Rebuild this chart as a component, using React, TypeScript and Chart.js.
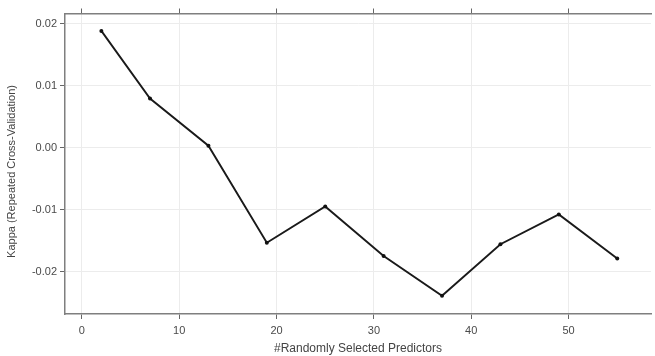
import React, { useEffect, useRef } from "react";
import { Chart, registerables } from "chart.js";

Chart.register(...registerables);

const PREDICTORS = [2, 7, 13, 19, 25, 31, 37, 43, 49, 55];
const KAPPA = [0.0188, 0.0079, 0.0003, -0.01535, -0.0095, -0.0175, -0.0239, -0.0156, -0.0108, -0.0179];
const X_TICKS = [0, 10, 20, 30, 40, 50];
const X_TICK_LABELS = ["0", "10", "20", "30", "40", "50"];
const Y_TICKS = [0.02, 0.01, 0, -0.01, -0.02];
const Y_TICK_LABELS = ["0.02", "0.01", "0.00", "-0.01", "-0.02"];
const X_TITLE = "#Randomly Selected Predictors";
const Y_TITLE = "Kappa (Repeated Cross-Validation)";

const FONT = "'Liberation Sans', Arial, sans-serif";

const yTitlePlugin = {
  id: "yTitle",
  afterDraw(chart: any) {
    const ctx = chart.ctx;
    ctx.save();
    ctx.translate(12, 171.5);
    ctx.rotate(-Math.PI / 2);
    ctx.font = `11px ${FONT}`;
    ctx.fillStyle = "#444";
    ctx.textAlign = "center";
    ctx.textBaseline = "middle";
    ctx.fillText(Y_TITLE, 0, 0);
    ctx.restore();
  },
};

export default function App() {
  const ref = useRef<HTMLCanvasElement | null>(null);

  useEffect(() => {
    if (!ref.current) return;
    const xTickCb = (v: any) => {
      const i = X_TICKS.indexOf(Number(v));
      return i >= 0 ? X_TICK_LABELS[i] : "";
    };
    const yTickCb = (v: any) => {
      const i = Y_TICKS.findIndex((t) => Math.abs(t - Number(v)) < 1e-9);
      return i >= 0 ? Y_TICK_LABELS[i] : "";
    };
    const chart = new Chart(ref.current, {
      type: "line",
      data: {
        datasets: [
          {
            data: PREDICTORS.map((x, i) => ({ x, y: KAPPA[i] })),
            borderColor: "#1a1a1a",
            borderWidth: 1.9,
            pointRadius: 2,
            pointBackgroundColor: "#111",
            pointBorderWidth: 0,
            tension: 0,
            fill: false,
          },
        ],
      },
      plugins: [yTitlePlugin],
      options: {
        animation: false,
        responsive: false,
        devicePixelRatio: 1,
        layout: { padding: 0 },
        plugins: { legend: { display: false }, tooltip: { enabled: false } },
        scales: {
          x: {
            type: "linear",
            position: "bottom",
            min: -1.735,
            max: 58.47,
            afterBuildTicks: (s: any) => {
              s.ticks = X_TICKS.map((value) => ({ value }));
            },
            afterFit: (s: any) => {
              s.height = 42;
            },
            grid: {
              color: "#ececec",
              lineWidth: 1,
              drawTicks: true,
              tickLength: 5,
              tickColor: "#666",
              tickWidth: 1,
            },
            border: { display: true, color: "#7f7f7f", width: 1.5 },
            ticks: {
              callback: xTickCb,
              color: "#4a4a4a",
              font: { family: FONT, size: 11 },
              padding: 5,
              maxRotation: 0,
            },
            title: {
              display: true,
              text: X_TITLE,
              color: "#444",
              font: { family: FONT, size: 12 },
              padding: { top: 0, bottom: 0 },
            },
          },
          x2: {
            type: "linear",
            position: "top",
            min: -1.735,
            max: 58.47,
            afterBuildTicks: (s: any) => {
              s.ticks = X_TICKS.map((value) => ({ value }));
            },
            afterFit: (s: any) => {
              s.height = 13.5;
            },
            grid: {
              drawOnChartArea: false,
              drawTicks: true,
              tickLength: 5,
              tickColor: "#666",
              tickWidth: 1,
            },
            border: { display: true, color: "#7f7f7f", width: 1.5 },
            ticks: { display: false },
          },
          y: {
            type: "linear",
            position: "left",
            min: -0.02685,
            max: 0.02161,
            afterBuildTicks: (s: any) => {
              s.ticks = Y_TICKS.map((value) => ({ value }));
            },
            afterFit: (s: any) => {
              s.width = 65;
            },
            grid: {
              color: "#ececec",
              lineWidth: 1,
              drawTicks: true,
              tickLength: 5,
              tickColor: "#666",
              tickWidth: 1,
            },
            border: { display: true, color: "#7f7f7f", width: 1.5 },
            ticks: {
              callback: yTickCb,
              color: "#4a4a4a",
              font: { family: FONT, size: 11 },
              padding: 3,
            },
            title: { display: false },
          },
        },
      },
    });
    return () => chart.destroy();
  }, []);

  return (
    <div style={{ position: "fixed", left: 0, top: 0, width: 655, height: 356, background: "#fff", overflow: "hidden" }}>
      <canvas ref={ref} width={655} height={356} style={{ width: 655, height: 356, display: "block" }} />
    </div>
  );
}
